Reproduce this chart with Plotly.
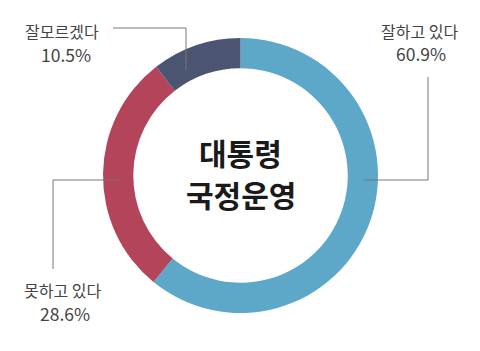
import plotly.graph_objects as go

labels = ["잘하고 있다", "못하고 있다", "잘모르겠다"]
values = [60.9, 28.6, 10.5]
colors = ["#5DA8C9", "#B34459", "#4B5572"]
center_title = ["대통령", "국정운영"]

W, H = 480, 351
CX, CY, R = 240.5, 175.5, 137.5
HOLE = 0.78

def px(x):
    return x / W

def py(y):
    return 1 - y / H

fig = go.Figure(go.Pie(
    labels=labels, values=values, sort=False, direction="clockwise", rotation=0,
    hole=HOLE, marker=dict(colors=colors, line=dict(width=0)),
    textinfo="none", hoverinfo="label+percent", showlegend=False,
    domain=dict(x=[px(CX - R), px(CX + R)], y=[py(CY + R), py(CY - R)]),
))

# label positions (pixel) : name center, value center
label_pos = {
    "잘하고 있다": ((419, 31), (421, 53)),
    "못하고 있다": ((62, 290), (65, 313)),
    "잘모르겠다": ((62, 31), (66, 55)),
}
leaders = {
    "잘하고 있다": [(428, 77), (428, 180), (364, 180)],
    "못하고 있다": [(53, 269), (53, 180), (120, 180)],
    "잘모르겠다": [(113, 28), (186, 28), (186, 70)],
}

annotations = []
shapes = []
for lab, val in zip(labels, values):
    (nx, ny), (vx, vy) = label_pos[lab]
    annotations.append(dict(x=px(nx), y=py(ny), xref="paper", yref="paper", text=lab,
                            showarrow=False, xanchor="center", yanchor="middle",
                            font=dict(size=16, color="#444444", family="Noto Sans CJK KR")))
    annotations.append(dict(x=px(vx), y=py(vy), xref="paper", yref="paper", text=f"{val}%",
                            showarrow=False, xanchor="center", yanchor="middle",
                            font=dict(size=17.5, color="#444444", family="Noto Sans CJK KR")))
    pts = leaders[lab]
    path = "M " + " L ".join(f"{px(x)},{py(y)}" for x, y in pts)
    shapes.append(dict(type="path", path=path, xref="paper", yref="paper",
                       line=dict(color="#777777", width=1)))

for i, t in enumerate(center_title):
    annotations.append(dict(x=px(CX), y=py([152, 194][i]), xref="paper", yref="paper", text=f"<b>{t}</b>",
                            showarrow=False, xanchor="center", yanchor="middle",
                            font=dict(size=30, color="#1A1A1A", family="Noto Sans CJK KR")))

fig.update_layout(width=W, height=H, margin=dict(l=0, r=0, t=0, b=0),
                  paper_bgcolor="white", plot_bgcolor="white",
                  annotations=annotations, shapes=shapes)
fig.write_html("out.html")
